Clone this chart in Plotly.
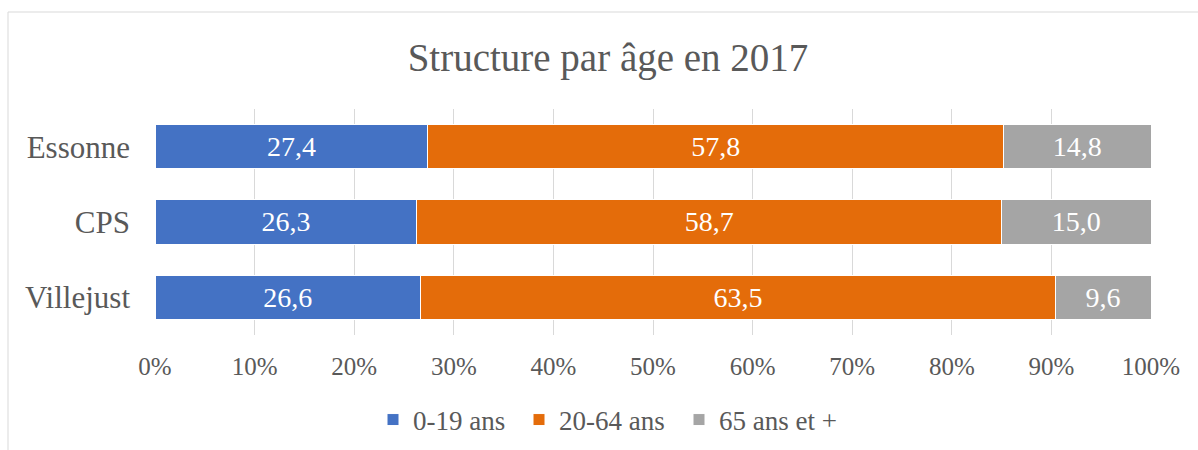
import plotly.graph_objects as go

categories = ["Villejust", "CPS", "Essonne"]
age_0_19 = [26.6, 26.3, 27.4]
age_20_64 = [63.5, 58.7, 57.8]
age_65_plus = [9.6, 15.0, 14.8]
series_names = ["0-19 ans", "20-64 ans", "65 ans et +"]
colors = ["#4472C4", "#E46C0A", "#A5A5A5"]
tick_vals = [0, 10, 20, 30, 40, 50, 60, 70, 80, 90, 100]
tick_text = [f"{v}%" for v in tick_vals]

FONT = "Liberation Serif"
GREY = "#595959"

def fmt(v):
    return f"{v:.1f}".replace(".", ",")

L, R, T, B = 155, 47, 109, 115
W, H = 1198, 450
pw, ph = W - L - R, H - T - B
bx = (8 - L) / pw
by = (H - B - 12) / ph

legend_ids = ["legend", "legend2", "legend3"]
legend_px = [373, 519, 679]

fig = go.Figure()
for name, vals, col, lg in zip(series_names, [age_0_19, age_20_64, age_65_plus], colors, legend_ids):
    fig.add_trace(go.Bar(
        y=categories, x=vals, name=name, orientation="h", legend=lg,
        marker=dict(color=col, line=dict(color="white", width=1)),
        text=[fmt(v) for v in vals], textposition="inside",
        insidetextanchor="middle", textangle=0,
        textfont=dict(family=FONT, size=28, color="white"),
        hoverinfo="skip",
    ))

legend_common = dict(orientation="h", xanchor="left",
                     y=(H - B - 420) / ph, yanchor="middle",
                     font=dict(family=FONT, size=27, color=GREY),
                     bgcolor="rgba(0,0,0,0)")
legends = {lg: dict(legend_common, x=(px - L) / pw) for lg, px in zip(legend_ids, legend_px)}

fig.update_layout(
    width=W, height=H,
    barmode="stack", barnorm="percent", bargap=0.415,
    plot_bgcolor="white", paper_bgcolor="white",
    margin=dict(l=L, r=R, t=T, b=B, autoexpand=False),
    title=dict(text="Structure par âge en 2017", x=(608 - L) / pw, xref="paper",
               xanchor="center", y=1 - 57 / H, yanchor="middle",
               font=dict(family=FONT, size=39, color=GREY)),
    xaxis=dict(range=[0, 100], tickmode="array", tickvals=tick_vals, ticktext=tick_text,
               showgrid=True, gridcolor="#D9D9D9", gridwidth=1,
               zeroline=False, showline=False, ticks="", automargin=False,
               ticklabelstandoff=14,
               tickfont=dict(family=FONT, size=25, color=GREY)),
    yaxis=dict(categoryorder="array", categoryarray=categories,
               showgrid=False, zeroline=False, showline=False, ticks="",
               automargin=False, ticklabelstandoff=24,
               tickfont=dict(family=FONT, size=31, color=GREY)),
    showlegend=True,
    shapes=[
        dict(type="line", xref="paper", yref="paper", x0=bx, x1=bx, y0=-1.0, y1=by,
             line=dict(color="#D9D9D9", width=1)),
        dict(type="line", xref="paper", yref="paper", x0=bx, x1=1.2, y0=by, y1=by,
             line=dict(color="#D9D9D9", width=1)),
    ],
    **legends,
)

fig.write_html("out.html", config={"displayModeBar": False},
               post_script="document.body.style.margin='0';")
